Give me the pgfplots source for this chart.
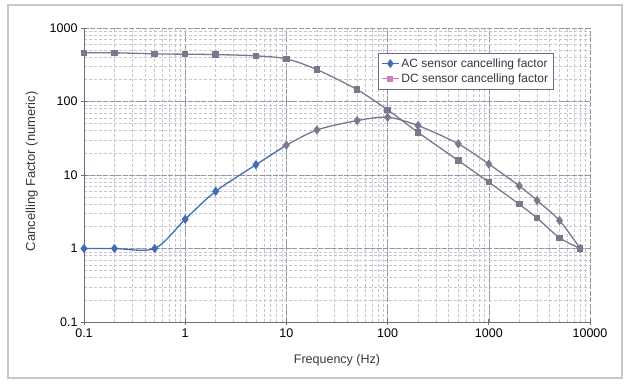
\documentclass[border=0pt]{standalone}
\usepackage{pgfplots}
\pgfplotsset{compat=1.18}
\usepackage{fontspec}
\setmainfont{Liberation Sans}
\definecolor{acblue}{RGB}{68,108,182}
\definecolor{lgrey}{RGB}{125,118,140}
\definecolor{dcpink}{RGB}{212,122,192}
\definecolor{axgrey}{RGB}{110,108,128}
\definecolor{majg}{RGB}{150,148,165}
\definecolor{ming}{RGB}{198,198,208}
\definecolor{framegrey}{RGB}{200,200,200}
\definecolor{txt}{RGB}{55,55,65}
\begin{document}
\begin{tikzpicture}
\begin{axis}[
  scale only axis, width=506pt, height=294pt,
  xmode=log, ymode=log,
  xmin=0.1, xmax=10000, ymin=0.1, ymax=1000,
  axis x line=bottom, axis y line=left,
  axis line style={axgrey, line width=0.9pt, -},
  xtick={0.1,1,10,100,1000,10000},
  xticklabels={0.1,1,10,100,1000,10000},
  ytick={0.1,1,10,100,1000},
  yticklabels={0.1,1,10,100,1000},
  tick label style={font=\fontsize{12.5}{14}\selectfont, black},
  /pgf/number format/assume math mode=true,
  major tick length=6pt, minor tick length=0pt, tick align=center,
  tick style={axgrey, line width=0.8pt},
  grid=both,
  major grid style={majg, line width=0.6pt, dash pattern=on 5pt off 1.5pt},
  minor grid style={ming, line width=0.5pt, dash pattern=on 3pt off 2pt},
  xlabel={Frequency (Hz)}, ylabel={Cancelling Factor (numeric)},
  xlabel style={font=\fontsize{12.5}{14}\selectfont, txt,
    at={(axis description cs:0.5,-0.129)}, anchor=center},
  ylabel style={font=\fontsize{13}{15}\selectfont, txt,
    at={(axis description cs:-0.103,0.513)}, anchor=center, rotate=0},
  legend style={at={(0.581,0.914)}, anchor=north west, draw=axgrey, fill=white,
    font=\fontsize{12}{14}\selectfont, text=txt, row sep=1pt, inner sep=3pt},
  legend cell align=left,
]
\addlegendimage{acblue, line width=1.2pt, mark=diamond*, mark size=3.5pt}
\addlegendentry{AC sensor cancelling factor}
\addlegendimage{dcpink, line width=1.2pt, mark=square*, mark size=2.5pt}
\addlegendentry{DC sensor cancelling factor}

% DC sensor
\addplot[forget plot, lgrey, line width=1.3pt, smooth, mark=square*, mark size=2.6pt,
  mark options={fill=lgrey, draw=lgrey}] coordinates {
 (0.1,460) (0.2,460) (0.5,445) (1,440) (2,435) (5,418) (10,380) (20,272)
 (50,145) (100,77) (200,38) (500,15.7) (1000,8) (2000,4) (3000,2.6) (5000,1.4) (8000,1)
};
% AC sensor, low-frequency part (blue in the scan)
\addplot[forget plot, acblue, line width=1.3pt, smooth, mark=diamond*, mark size=3.6pt,
  mark indices={1,2,3,4,5,6}] coordinates {
 (0.1,1) (0.2,1) (0.5,1) (1,2.5) (2,6) (5,13.8) (10,25.5)
};
% AC sensor, high-frequency part (grey in the scan)
\addplot[forget plot, lgrey, line width=1.3pt, smooth, mark=diamond*, mark size=3.6pt,
  mark options={fill=lgrey, draw=lgrey}] coordinates {
 (10,25.5) (20,41) (50,55) (100,61) (200,47) (500,26.5) (1000,14.1)
 (2000,7.1) (3000,4.5) (5000,2.4) (8000,1)
};
\end{axis}
\draw[framegrey, line width=2pt] ([xshift=-76pt,yshift=-55.7pt]current axis.south west)
  rectangle ([xshift=32pt,yshift=23pt]current axis.north east);
\path ([xshift=-84pt,yshift=-62.3pt]current axis.south west)
  rectangle ([xshift=39pt,yshift=28pt]current axis.north east);
\end{tikzpicture}
\end{document}
